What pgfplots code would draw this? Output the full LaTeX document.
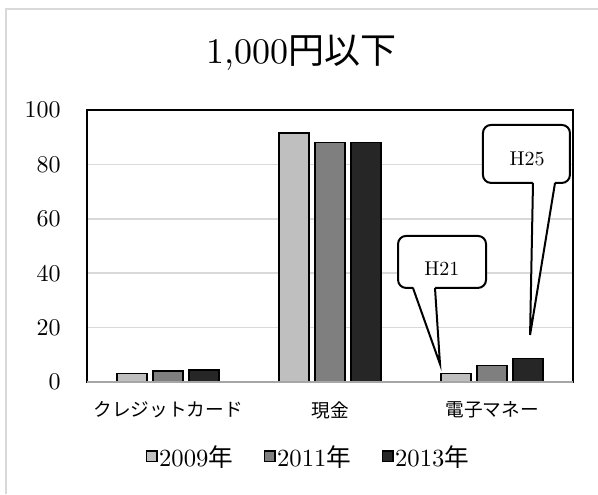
\documentclass[border=0pt]{standalone}
\usepackage{fontspec}
\usepackage{pgfplots}
\pgfplotsset{compat=1.18}
\setmainfont{lmroman10-regular.otf}[BoldFont=lmroman10-bold.otf]
\newfontfamily\cjk{Noto Sans CJK JP}
\definecolor{c09}{HTML}{BFBFBF}
\definecolor{c11}{HTML}{7F7F7F}
\definecolor{c13}{HTML}{262626}
\definecolor{gridc}{HTML}{D9D9D9}
\definecolor{framec}{HTML}{D9D9D9}

\begin{document}
\begin{tikzpicture}[x=0.75pt,y=0.75pt]
\path[use as bounding box] (0,0) rectangle (598,494);
\draw[framec, line width=1.5pt] (6,0) -- (6,485) -- (600,485);
\node[font=\fontsize{27}{30}\selectfont] at (301.5,441) {1,000{\cjk 円以下}};
\begin{axis}[
  at={(65.25pt,84pt)}, anchor=south west, scale only axis,
  width=364.5pt, height=204pt,
  xmin=-0.5, xmax=2.5, ymin=0, ymax=100,
  ytick={0,20,...,100}, xtick={0,1,2},
  xticklabels={{\cjk クレジットカード},{\cjk 現金},{\cjk 電子マネー}},
  /pgf/number format/assume math mode=true,
  ymajorgrids, major grid style={gridc, line width=1.1pt},
  axis line style={black, line width=1.1pt},
  tick style={draw=none},
  yticklabel style={font=\fontsize{18}{20}\selectfont, anchor=east, inner sep=0pt, xshift=-19.5pt},
  xticklabel style={font=\fontsize{14}{16}\selectfont, anchor=center, inner sep=0pt, yshift=-21pt},
  clip=false,
  legend columns=3,
  legend style={at={(0.455,-0.2757)}, anchor=center, draw=none, fill=none,
    font=\fontsize{18.5}{20}\selectfont, nodes={inner sep=1pt},
    /tikz/every even column/.append style={column sep=22pt}},
  legend image code/.code={\draw[#1, line width=1pt] (0pt,-3.6pt) rectangle (8pt,4.4pt);},
  every axis plot/.append style={ybar, bar width=22.1pt, draw=black, line width=1.2pt},
]
\addplot[fill=c09, bar shift=-27pt] coordinates {(0,3.1) (1,91.5) (2,3.1)};
\addplot[fill=c11, bar shift=0pt] coordinates {(0,4.0) (1,88.0) (2,6.0)};
\addplot[fill=c13, bar shift=27pt] coordinates {(0,4.4) (1,88.0) (2,8.6)};
\addlegendentry{2009{\cjk 年}}
\addlegendentry{2011{\cjk 年}}
\addlegendentry{2013{\cjk 年}}
\draw[black!35, line width=1.5pt] (rel axis cs:0,0) -- (rel axis cs:1,0);
% H21 callout
\draw[line width=1.5pt, rounded corners=6pt, fill=white] (axis cs:1.420,34.6) rectangle (axis cs:1.963,53.7);
\fill[white] (axis cs:1.512,35.3) -- (axis cs:1.679,6.6) -- (axis cs:1.648,35.3) -- cycle;
\draw[line width=1.5pt] (axis cs:1.512,34.6) -- (axis cs:1.679,6.6) -- (axis cs:1.648,34.6);
\node[font=\fontsize{15}{18}\selectfont] at (axis cs:1.691,41.5) {H21};
% H25 callout
\draw[line width=1.5pt, rounded corners=6pt, fill=white] (axis cs:1.944,73.2) rectangle (axis cs:2.481,94.5);
\fill[white] (axis cs:2.253,73.9) -- (axis cs:2.235,17.3) -- (axis cs:2.389,73.9) -- cycle;
\draw[line width=1.5pt] (axis cs:2.253,73.2) -- (axis cs:2.235,17.3) -- (axis cs:2.389,73.2);
\node[font=\fontsize{15}{18}\selectfont] at (axis cs:2.216,82.0) {H25};
\end{axis}
\end{tikzpicture}
\end{document}
